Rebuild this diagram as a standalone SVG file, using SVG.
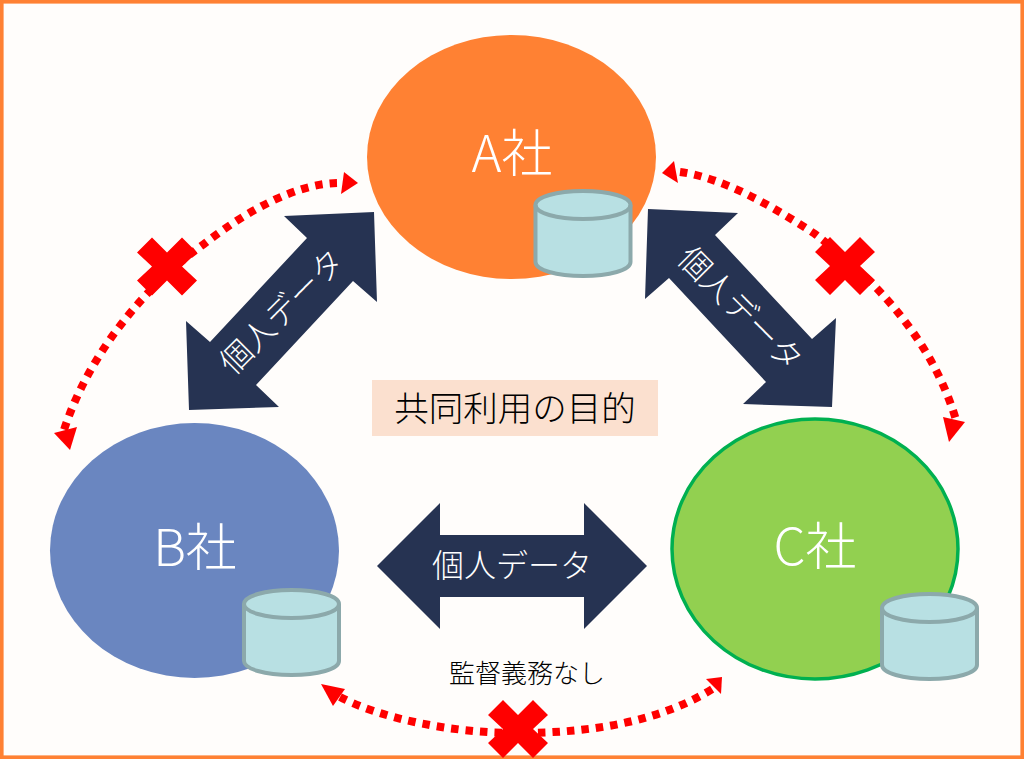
<svg xmlns="http://www.w3.org/2000/svg" width="1024" height="759" viewBox="0 0 1024 759">
<style>
text{font-family:"Noto Sans CJK JP","Noto Sans",sans-serif;text-anchor:middle;font-weight:300}
.co{font-size:51px;fill:#fff}
.lbl{font-size:32px;fill:#fff}
.arr{fill:#263352}
.dot{fill:none;stroke:#f00;stroke-width:8;stroke-dasharray:7.500 7}
.head{fill:#f00}
.db path{fill:#b8e0e3;stroke:#8ca9ab;stroke-width:4}
</style>
<defs>
<polygon id="x" fill="#f00" points="-15,-29 0,-14 15,-29 30,-14 15,0 30,14 15,29 0,14 -15,29 -30,14 -15,0 -30,-14"/>
<g id="cyl" class="db">
<path d="M0,14C0,6 21,0 47.500,0S95,6 95,14V71C95,79 74,85 47.500,85S0,79 0,71Z"/>
<path d="M0,14C0,22 21,28 47.500,28S95,22 95,14" style="fill:none"/>
</g>
</defs>
<rect x="1.800" y="1.800" width="1020.400" height="755.400" fill="#fffdfb" stroke="#ff8133" stroke-width="3.600"/>
<g id="connectors">
<g id="arrow-ab"><polygon class="arr" points="374,212 284,216 307,238 210,342 186,321 189,410 279,407 256,385 353,281 377,302"/>
<text class="lbl" transform="translate(282,312) rotate(-45)" y="11">個人データ</text></g>
<g id="arrow-ac"><polygon class="arr" points="648,209 738,213 715,235 812,339 836,318 832,407 743,404 766,382 669,278 645,299"/>
<text class="lbl" transform="translate(740,309) rotate(45)" y="11">個人データ</text></g>
<g id="arrow-bc"><polygon class="arr" points="377,566 440,503 440,535 584,535 584,503 647,566 584,629 584,597 440,597 440,629"/>
<text class="lbl" x="512" y="577">個人データ</text></g>
<path class="dot" d="M337,183C295,184 245,212 204,244C150,282 90,350 64,430"/>
<polygon class="head" points="358,183 344,172 341,194"/>
<polygon class="head" points="70,450 54,433 77,427"/>
<path class="dot" d="M680,172C725,178 775,208 815,234C865,272 930,332 956,420"/>
<polygon class="head" points="662,173 674,161 678,183"/>
<polygon class="head" points="949,442 943,417 965,422"/>
<path class="dot" d="M340,697C380,718 450,733 518,733C590,733 660,722 714,688"/>
<polygon class="head" points="321,684 345,689 333,706"/>
<polygon class="head" points="722,677 706,679 721,694"/>
<use href="#x" x="167" y="266.500"/>
<use href="#x" x="845" y="266"/>
<use href="#x" x="518" y="729"/>
</g>
<g id="node-a"><ellipse cx="511.500" cy="157" rx="144.500" ry="122" fill="#ff8133"/>
<text class="co" x="512" y="172">A社</text><use href="#cyl" x="535.500" y="191"/></g>
<g id="node-b"><ellipse cx="194.500" cy="550.500" rx="144.500" ry="127.500" fill="#6a86c0"/>
<text class="co" x="195" y="566">B社</text><use href="#cyl" x="244" y="590"/></g>
<g id="node-c"><ellipse cx="815" cy="549" rx="143" ry="130" fill="#92d050" stroke="#00b050" stroke-width="3.500"/>
<text class="co" x="815" y="565">C社</text><use href="#cyl" x="882" y="594"/></g>
<g id="purpose"><rect x="372" y="380" width="286" height="56" fill="#fbe0cf"/>
<text x="515" y="421" font-size="34.500" fill="#000">共同利用の目的</text></g>
<text id="note" x="527" y="683" font-size="26" fill="#000">監督義務なし</text>
</svg>
